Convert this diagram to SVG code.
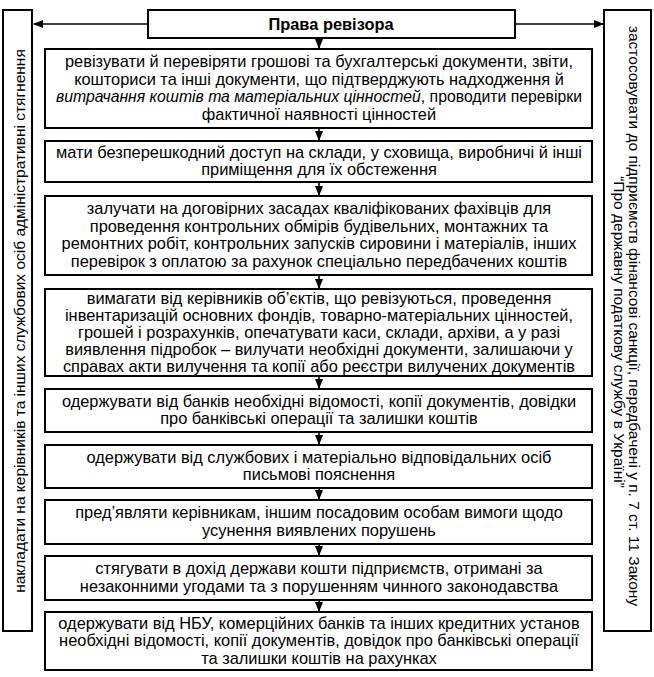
<svg xmlns="http://www.w3.org/2000/svg" width="654" height="677" viewBox="0 0 654 677">
<defs>
<marker id="ah" markerWidth="10" markerHeight="8" refX="9" refY="4" orient="auto" markerUnits="userSpaceOnUse">
<path d="M0,0 L10,4 L0,8 Z" fill="#000"/>
</marker>
<style>
.box{fill:#fff;stroke:#000;stroke-width:2}
.t{font-family:"Liberation Sans Narrow","Liberation Sans",Arial,sans-serif;font-size:16.4px;fill:#000;text-anchor:middle}
.s{font-size:15.5px}
.b{font-weight:bold}
.i{font-style:italic}
.c{stroke:#000;stroke-width:1.6;fill:none}
</style>
</defs>
<rect width="654" height="677" fill="#fff"/>
<g id="connectors">
<path class="c" d="M148,24 H34" marker-end="url(#ah)"/>
<path class="c" d="M515,24 H603" marker-end="url(#ah)"/>
<path class="c" d="M319,38 V48" marker-end="url(#ah)"/>
<path class="c" d="M319,128 V140" marker-end="url(#ah)"/>
<path class="c" d="M319,182 V195" marker-end="url(#ah)"/>
<path class="c" d="M319,275 V288" marker-end="url(#ah)"/>
<path class="c" d="M319,376 V388" marker-end="url(#ah)"/>
<path class="c" d="M319,432 V444" marker-end="url(#ah)"/>
<path class="c" d="M319,488 V499" marker-end="url(#ah)"/>
<path class="c" d="M319,544 V555" marker-end="url(#ah)"/>
<path class="c" d="M319,600 V611" marker-end="url(#ah)"/>
</g>
<g id="title">
<rect class="box" x="148" y="10" width="367" height="28"/>
<text class="t b" x="331" y="30">Права ревізора</text>
</g>
<g id="left">
<rect class="box" x="3" y="10" width="29" height="621"/>
<text class="t s" transform="translate(25,321) rotate(-90)" x="0" y="0">накладати на керівників та інших службових осіб адміністративні стягнення</text>
</g>
<g id="right">
<rect class="box" x="604" y="10" width="47" height="621"/>
<text class="t s" transform="translate(629,316) rotate(90)" x="0" y="0">застосовувати до підприємств фінансові санкції, передбачені у п. 7 ст. 11 Закону</text>
<text class="t s" transform="translate(614,332) rotate(90)" x="0" y="0">“Про державну податкову службу в Україні”</text>
</g>
<g id="b1">
<rect class="box" x="45" y="49" width="547" height="79"/>
<text class="t" x="319" y="67.3">ревізувати й перевіряти грошові та бухгалтерські документи, звіти,</text>
<text class="t" x="319" y="84.8">кошториси та інші документи, що підтверджують надходження й</text>
<text class="t" x="319" y="102.3" textLength="526" lengthAdjust="spacingAndGlyphs"><tspan class="i">витрачання коштів та матеріальних цінностей</tspan>, проводити перевірки</text>
<text class="t" x="319" y="119.8">фактичної наявності цінностей</text>
</g>
<g id="b2">
<rect class="box" x="45" y="141" width="547" height="41"/>
<text class="t" x="319" y="157.8">мати безперешкодний доступ на склади, у сховища, виробничі й інші</text>
<text class="t" x="319" y="175.3">приміщення для їх обстеження</text>
</g>
<g id="b3">
<rect class="box" x="45" y="196" width="547" height="79"/>
<text class="t" x="319" y="214.3">залучати на договірних засадах кваліфікованих фахівців для</text>
<text class="t" x="319" y="231.8">проведення контрольних обмірів будівельних, монтажних та</text>
<text class="t" x="319" y="249.3">ремонтних робіт, контрольних запусків сировини і матеріалів, інших</text>
<text class="t" x="319" y="266.8">перевірок з оплатою за рахунок спеціально передбачених коштів</text>
</g>
<g id="b4">
<rect class="box" x="45" y="289" width="547" height="87"/>
<text class="t" x="319" y="304">вимагати від керівників об’єктів, що ревізуються, проведення</text>
<text class="t" x="319" y="321">інвентаризацій основних фондів, товарно-матеріальних цінностей,</text>
<text class="t" x="319" y="338">грошей і розрахунків, опечатувати каси, склади, архіви, а у разі</text>
<text class="t" x="319" y="355">виявлення підробок – вилучати необхідні документи, залишаючи у</text>
<text class="t" x="319" y="372">справах акти вилучення та копії або реєстри вилучених документів</text>
</g>
<g id="b5">
<rect class="box" x="45" y="389" width="547" height="43"/>
<text class="t" x="319" y="406.8">одержувати від банків необхідні відомості, копії документів, довідки</text>
<text class="t" x="319" y="424.3">про банківські операції та залишки коштів</text>
</g>
<g id="b6">
<rect class="box" x="45" y="445" width="547" height="43"/>
<text class="t" x="319" y="462.8">одержувати від службових і матеріально відповідальних осіб</text>
<text class="t" x="319" y="480.3">письмові пояснення</text>
</g>
<g id="b7">
<rect class="box" x="45" y="500" width="547" height="44"/>
<text class="t" x="319" y="518.3">пред’являти керівникам, іншим посадовим особам вимоги щодо</text>
<text class="t" x="319" y="535.8">усунення виявлених порушень</text>
</g>
<g id="b8">
<rect class="box" x="45" y="556" width="547" height="44"/>
<text class="t" x="319" y="574.3">стягувати в дохід держави кошти підприємств, отримані за</text>
<text class="t" x="319" y="591.8">незаконними угодами та з порушенням чинного законодавства</text>
</g>
<g id="b9">
<rect class="box" x="45" y="612" width="547" height="58"/>
<text class="t" x="319" y="628.5">одержувати від НБУ, комерційних банків та інших кредитних установ</text>
<text class="t" x="319" y="646">необхідні відомості, копії документів, довідок про банківські операції</text>
<text class="t" x="319" y="663.5">та залишки коштів на рахунках</text>
</g>
</svg>
